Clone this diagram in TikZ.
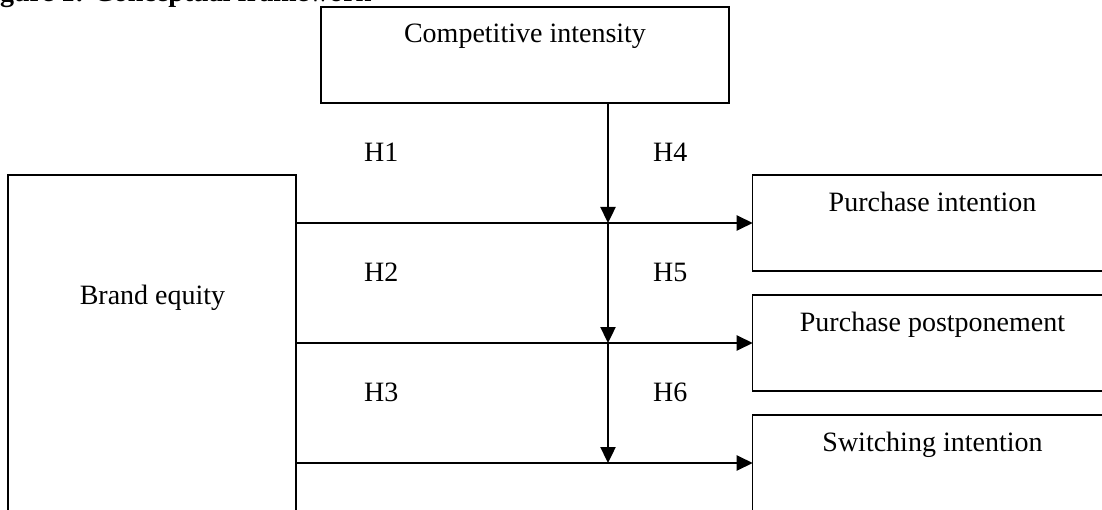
\documentclass[tikz,border=0pt]{standalone}
\usepackage{fontspec}
\setmainfont{Liberation Serif}
\usetikzlibrary{arrows.meta}
\begin{document}
\begin{tikzpicture}[x=1pt,y=-1pt,
  box/.style={draw=black,line width=1.5pt,rectangle,inner sep=0pt,outer sep=0pt},
  lbl/.style={anchor=base,inner sep=0pt,font=\fontsize{28}{32}\selectfont},
  hl/.style={anchor=base west,inner sep=0pt,font=\fontsize{28}{32}\selectfont},
  arr/.style={line width=2.4pt,-{Triangle[length=16pt,width=15pt]}}]
\useasboundingbox (0,0) rectangle (1102,510);
% caption (cut off by the page top)
\node[anchor=base west,inner sep=0pt,font=\fontsize{28}{32}\selectfont\bfseries] (cap) at (-25,1.5) {Figure 1: Conceptual framework};
% boxes
\node[box,minimum width=408pt,minimum height=96pt] (comp) at (525,55) {};
\node[lbl] (compt) at (525,43) {Competitive intensity};
\node[box,minimum width=288pt,minimum height=350pt] (brand) at (152,350) {};
\node[lbl] (brandt) at (152.5,305) {Brand equity};
\node[box,minimum width=360pt,minimum height=96pt] (pi) at (932.7,223) {};
\node[lbl] (pit) at (932.5,211.7) {Purchase intention};
\node[box,minimum width=360pt,minimum height=96pt] (pp) at (932.7,343) {};
\node[lbl] (ppt) at (932.5,331.7) {Purchase postponement};
\node[box,minimum width=360pt,minimum height=96pt] (si) at (932.7,463) {};
\node[lbl] (sit) at (932.5,451.7) {Switching intention};
% junctions
\coordinate (cs) at (608,103);
\coordinate (j1) at (608,223);
\coordinate (j2) at (608,343);
\coordinate (j3) at (608,463);
% horizontal arrows
\draw[arr] (brand.east |- pi.west) -- (pi.west);
\draw[arr] (brand.east |- pp.west) -- (pp.west);
\draw[arr] (brand.east |- si.west) -- (si.west);
% vertical arrows
\draw[arr] (cs) -- (j1);
\draw[arr] (j1) -- (j2);
\draw[arr] (j2) -- (j3);
% hypothesis labels
\node[hl] (h1) at (364,161.7) {H1};
\node[hl] (h2) at (364,281.7) {H2};
\node[hl] (h3) at (364,401.7) {H3};
\node[hl] (h4) at (653,161.7) {H4};
\node[hl] (h5) at (653,281.7) {H5};
\node[hl] (h6) at (653,401.7) {H6};
\end{tikzpicture}
\end{document}
